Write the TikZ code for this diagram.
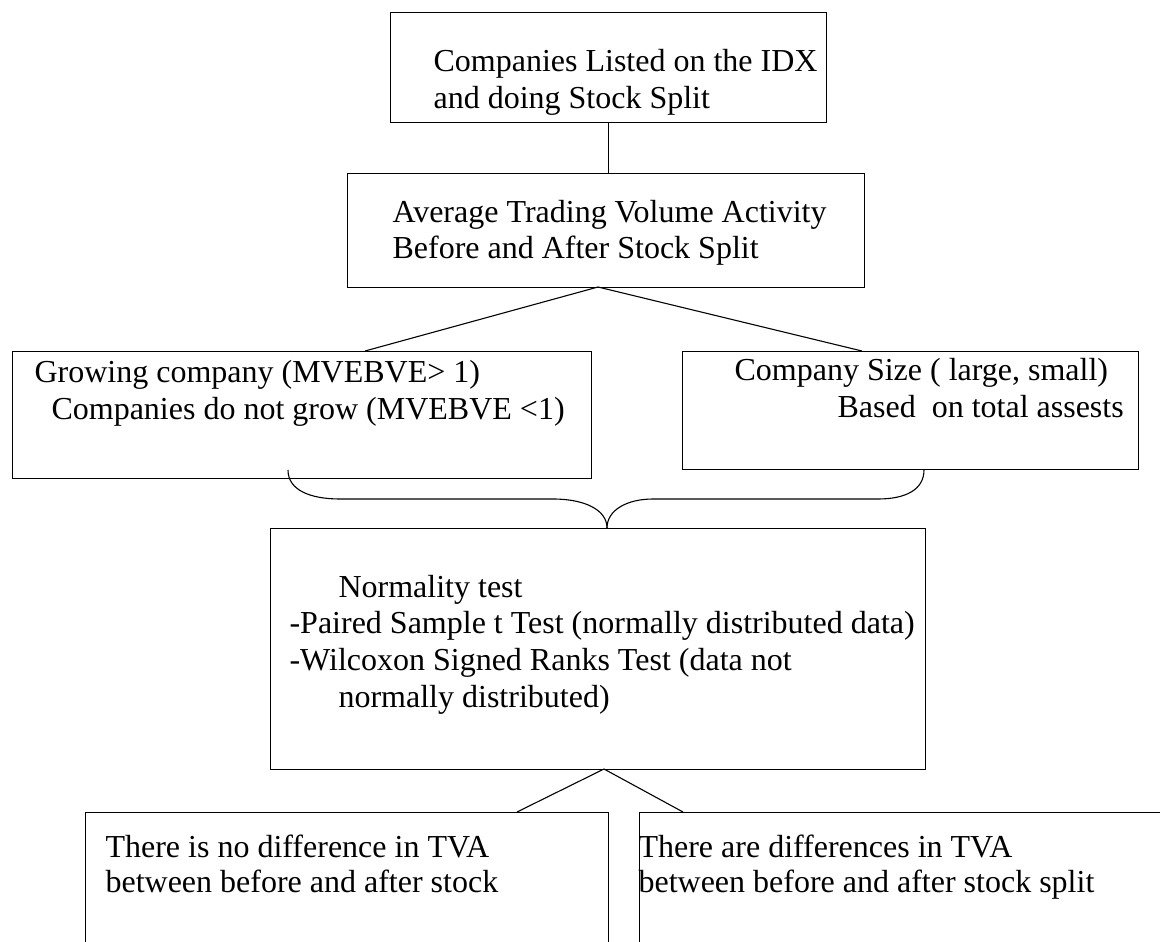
\documentclass[tikz,border=0pt]{standalone}
\usepackage{fontspec}
\setmainfont{Liberation Serif}
\usetikzlibrary{calc}
\begin{document}
\begin{tikzpicture}[x=1pt,y=-1pt, line width=1.1pt,
  box/.style={draw, rectangle, inner sep=0pt, anchor=north west},
  txt/.style={anchor=base west, inner sep=0pt, font=\fontsize{32}{36.8}\selectfont}]
\useasboundingbox (0,0) rectangle (1160,942);
\clip (0,0) rectangle (1160,942);
% boxes
\node[box, minimum width=436pt, minimum height=110pt] (b1) at (390,12) {};
\node[box, minimum width=517pt, minimum height=114pt] (b2) at (347,173) {};
\node[box, minimum width=579pt, minimum height=127pt] (b3) at (12,351) {};
\node[box, minimum width=456pt, minimum height=118pt] (b4) at (682,351) {};
\node[box, minimum width=655pt, minimum height=241pt] (b5) at (270,528) {};
\node[box, minimum width=523pt, minimum height=200pt] (b6) at (85,812) {};
\node[box, minimum width=600pt, minimum height=200pt] (b7) at (639,812) {};
% texts
\node[txt] (t1a) at (433,72) {Companies Listed on the IDX};
\node[txt] (t1b) at (433,108) {and doing Stock Split};
\node[txt] (t2a) at (392,222) {Average Trading Volume Activity};
\node[txt] (t2b) at (392,258) {Before and After Stock Split};
\node[txt] (t3a) at (34,382) {Growing company (MVEBVE> 1)};
\node[txt] (t3b) at (51,419) {Companies do not grow (MVEBVE <1)};
\node[txt] (t4a) at (734,380) {Company Size ( large, small)};
\node[txt] (t4b) at (837,417) {Based\ \ on total assests};
\node[txt] (t5a) at (338,597) {Normality test};
\node[txt] (t5b) at (289,633) {-Paired Sample t Test (normally distributed data)};
\node[txt] (t5c) at (289,670) {-Wilcoxon Signed Ranks Test (data not};
\node[txt] (t5d) at (338,707) {normally distributed)};
\node[txt] (t6a) at (105,857) {There is no difference in TVA};
\node[txt] (t6b) at (105,892) {between before and after stock};
\node[txt] (t7a) at (638,857) {There are differences in TVA};
\node[txt] (t7b) at (638,892) {between before and after stock split};
% connectors
\draw (b1.south) -- (b1.south |- b2.north);
\coordinate (ap1) at (598,287);
\draw ($(b3.north west)+(353,0)$) -- (ap1) -- ($(b4.north west)+(180,0)$);
\coordinate (br1) at (288,470);
\coordinate (ap2) at ($(b5.north west)+(337,0)$);
\coordinate (br2) at (924,470);
\draw (br1) .. controls (288,490) and (310,499) .. (340,499) -- (553,499)
      .. controls (585,499) and (607,510) .. (ap2);
\draw (ap2) .. controls (607,510) and (627,499) .. (653,499) -- (878,499)
      .. controls (905,499) and (924,490) .. (br2);
\coordinate (ap3) at (604,769);
\draw ($(b6.north west)+(432,0)$) -- (ap3) -- ($(b7.north west)+(44,0)$);
\end{tikzpicture}
\end{document}
